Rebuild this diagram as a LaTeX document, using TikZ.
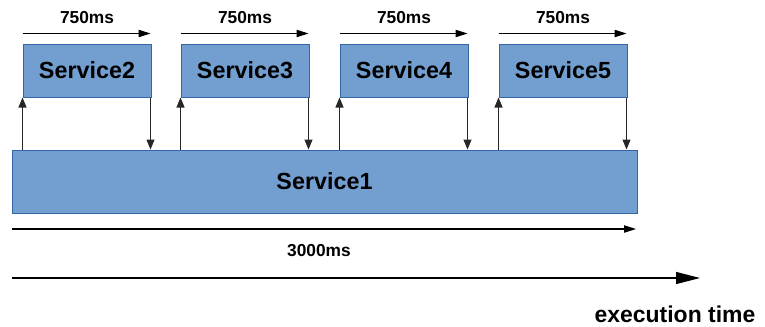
\documentclass[tikz,border=0pt]{standalone}
\usepackage{fontspec}
\setmainfont{Liberation Sans}
\usetikzlibrary{arrows.meta}
\definecolor{boxfill}{HTML}{729FCF}
\definecolor{boxline}{HTML}{3465A4}
\tikzset{
  svc/.style={draw=boxline, line width=0.75pt, fill=boxfill, inner sep=0pt,
    font=\fontsize{17.5}{20}\selectfont\bfseries, text=black},
  small/.style={shape=rectangle, inner sep=0pt, font=\fontsize{13}{15}\selectfont\bfseries},
  big/.style={shape=rectangle, inner sep=0pt, text depth=0pt, font=\fontsize{17.2}{20}\selectfont\bfseries},
  call/.style={draw=black!85, line width=0.8pt, -{Triangle[length=7.5pt,width=6pt]}},
  span/.style={draw=black, line width=0.8pt, -{Triangle[length=9pt,width=5.5pt]}},
  axis/.style={draw=black, line width=0.9pt, -{Triangle[length=18pt,width=9pt]}},
}
\begin{document}
\begin{tikzpicture}[x=0.75pt, y=-0.75pt]
  \useasboundingbox (0,0) rectangle (765,326);

  % caller service spanning the whole run
  \node[svc, minimum width=625*0.75pt, minimum height=63*0.75pt] (s1) at (324.5,181.5) {Service1};

  % called services, one after another
  \foreach \n/\x in {2/87, 3/245, 4/404, 5/563} {
    \node[svc, minimum width=128*0.75pt, minimum height=53*0.75pt] (s\n) at (\x,70.5) {Service\n};
    % request and response
    \draw[call] (s\n.south west |- s1.north) -- (s\n.south west);
    \draw[call] ([xshift=-0.75pt]s\n.south east) -- ([xshift=-0.75pt]s\n.south east |- s1.north);
    % duration of each call
    \coordinate (d\n a) at ([yshift=10*0.75pt]s\n.north west);
    \coordinate (d\n b) at ([xshift=-0.75pt,yshift=10*0.75pt]s\n.north east);
    \draw[span] (d\n a) -- (d\n b);
    \node[small] (l\n) at (\x,18) {750ms};
  }

  % total duration
  \coordinate (ta) at (12,229);
  \coordinate (tb) at (636,229);
  \draw[span] (ta) -- (tb);
  \node[small] (tot) at (319,250.5) {3000ms};

  % time axis
  \coordinate (xa) at (12,278);
  \coordinate (xb) at (700,278);
  \draw[axis] (xa) -- (xb);
  \node[big, anchor=base] (xl) at (675,322) {execution time};
\end{tikzpicture}
\end{document}
